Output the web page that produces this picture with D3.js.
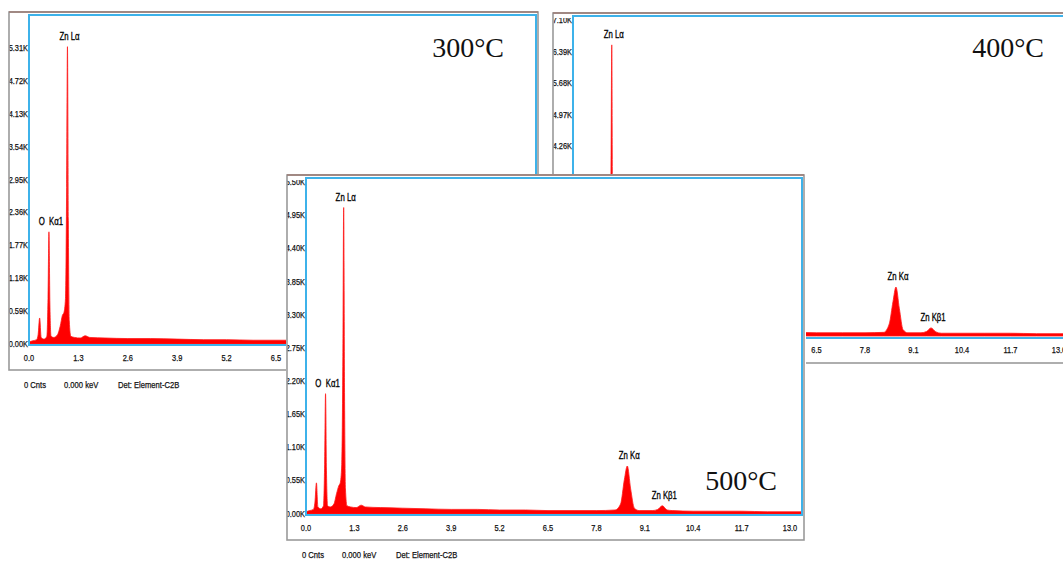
<!DOCTYPE html>
<html>
<head>
<meta charset="utf-8">
<script src="https://cdn.jsdelivr.net/npm/d3@7"></script>
<style>
  body { margin: 0; background: #fff; }
  svg { display: block; }
  .lbl { font-family: "Liberation Sans", Arial, sans-serif; font-size: 9.5px; fill: #111; stroke: #111; stroke-width: 0.25px; }
  .peak { font-family: "Liberation Sans", Arial, sans-serif; font-size: 10px; fill: #000; stroke: #000; stroke-width: 0.3px; }
  .temp { font-family: "Liberation Serif", "Times New Roman", serif; font-size: 28px; fill: #111; }
</style>
</head>
<body>
<div id="chart"></div>
<script>
// energy grid (keV) shared by the three spectra
const keV = [0.00, 0.10, 0.20, 0.24, 0.28, 0.32, 0.40, 0.47, 0.50, 0.525, 0.55, 0.58, 0.65, 0.75, 0.82, 0.88,
  0.92, 0.96, 0.99, 1.012, 1.035, 1.06, 1.10, 1.20, 1.35, 1.48, 1.60, 2.00, 2.60, 3.20, 3.90, 4.60, 5.20,
  5.90, 6.50, 7.20, 7.80, 8.30, 8.45, 8.55, 8.63, 8.72, 8.82, 8.95, 9.30, 9.45, 9.57, 9.70, 9.85, 10.40,
  11.00, 11.70, 12.40, 13.00, 13.40];

// counts in K
const counts300 = [0.02, 0.04, 0.06, 0.15, 0.45, 0.10, 0.07, 0.12, 0.80, 2.00, 0.70, 0.12, 0.10, 0.15, 0.30, 0.50,
  0.55, 0.80, 2.80, 5.33, 2.20, 0.40, 0.12, 0.10, 0.09, 0.13, 0.10, 0.09, 0.08, 0.08, 0.07, 0.06, 0.06,
  0.05, 0.05, 0.05, 0.04, 0.05, 0.25, 0.65, 0.85, 0.55, 0.15, 0.05, 0.04, 0.06, 0.13, 0.05, 0.04, 0.03,
  0.03, 0.03, 0.02, 0.02, 0.02];
const counts400 = [0.02, 0.04, 0.06, 0.15, 0.50, 0.10, 0.07, 0.12, 0.85, 2.30, 0.75, 0.12, 0.10, 0.15, 0.32, 0.55,
  0.60, 0.90, 3.30, 6.53, 2.60, 0.45, 0.12, 0.10, 0.09, 0.13, 0.10, 0.09, 0.08, 0.08, 0.07, 0.07, 0.06,
  0.06, 0.05, 0.05, 0.05, 0.06, 0.25, 0.75, 1.08, 0.60, 0.12, 0.05, 0.05, 0.08, 0.16, 0.07, 0.04, 0.04,
  0.04, 0.04, 0.03, 0.03, 0.03];
const counts500 = [0.02, 0.04, 0.06, 0.18, 0.50, 0.10, 0.07, 0.12, 0.80, 1.98, 0.70, 0.12, 0.10, 0.15, 0.32, 0.45,
  0.50, 0.80, 2.60, 5.07, 2.00, 0.40, 0.12, 0.10, 0.09, 0.13, 0.10, 0.09, 0.08, 0.07, 0.06, 0.06, 0.05,
  0.05, 0.04, 0.04, 0.04, 0.05, 0.15, 0.55, 0.78, 0.40, 0.08, 0.04, 0.04, 0.06, 0.12, 0.05, 0.04, 0.03,
  0.03, 0.03, 0.02, 0.02, 0.02];

const xTicks = [0.0, 1.3, 2.6, 3.9, 5.2, 6.5, 7.8, 9.1, 10.4, 11.7, 13.0];
const yTicks300 = [0, 0.59, 1.18, 1.77, 2.36, 2.95, 3.54, 4.13, 4.72, 5.31];
const yTicks400 = [0, 0.71, 1.42, 2.13, 2.84, 3.55, 4.26, 4.97, 5.68, 6.39, 7.10];
const yTicks500 = [0, 0.55, 1.10, 1.65, 2.20, 2.75, 3.30, 3.85, 4.40, 4.95, 5.50];

const peakNames = ["Zn L\u03b1", "O  K\u03b11", "Zn K\u03b1", "Zn K\u03b21"];
const peakKeV = [1.012, 0.525, 8.63, 9.57];
const statusTexts = ["0 Cnts", "0.000 keV", "Det: Element-C2B"];

const width = 1063, height = 562;

const svg = d3.select("#chart").append("svg")
  .attr("width", width)
  .attr("height", height);

// window layout of each screenshot (pixels)
const panels = [
  { id: "p300", counts: counts300, yTicks: yTicks300, temp: "300\u00b0C",
    frame: { x: 9, y: 12, r: 538, b: 370 }, plot: { x: 29, y: 15, r: 536, b: 345 },
    zeroY: 343, yMax: 5.9, x0: 29, x13: 523, tempX: 504, tempY: 57 },
  { id: "p400", counts: counts400, yTicks: yTicks400, temp: "400\u00b0C",
    frame: { x: 553, y: 13, r: 1082, b: 363 }, plot: { x: 573, y: 16, r: 1080, b: 338 },
    zeroY: 335, yMax: 7.18, x0: 574, x13: 1059, tempX: 1044, tempY: 57 },
  { id: "p500", counts: counts500, yTicks: yTicks500, temp: "500\u00b0C",
    frame: { x: 287, y: 175, r: 804, b: 540 }, plot: { x: 306, y: 178, r: 802, b: 515 },
    zeroY: 513, yMax: 5.56, x0: 306, x13: 790, tempX: 777, tempY: 490 }
];

// squeeze text horizontally like the narrow font of the EDS software
function narrow(sel, k) {
  sel.each(function () {
    const w = this.getComputedTextLength();
    d3.select(this).attr("textLength", w * k).attr("lengthAdjust", "spacingAndGlyphs");
  });
}

panels.forEach(drawPanel);

function drawPanel(p) {
  const g = svg.append("g").attr("id", p.id);
  const f = p.frame, pl = p.plot;

  // white window background (covers what lies below)
  g.append("rect")
    .attr("x", f.x - 1).attr("y", f.y - 1)
    .attr("width", f.r - f.x + 3).attr("height", f.b - f.y + 26)
    .attr("fill", "#fff");

  const x = d3.scaleLinear().domain([0, 13]).range([p.x0, p.x13]);
  const y = d3.scaleLinear().domain([0, p.yMax]).range([p.zeroY, pl.y]);

  const defs = g.append("defs");
  defs.append("clipPath").attr("id", p.id + "-clip")
    .append("rect").attr("x", pl.x).attr("y", pl.y)
    .attr("width", pl.r - pl.x).attr("height", pl.b - pl.y);
  defs.append("clipPath").attr("id", p.id + "-yclip")
    .append("rect").attr("x", f.x).attr("y", pl.y + 2)
    .attr("width", pl.x - f.x).attr("height", f.b - pl.y);

  const pts = keV.map((e, i) => [e, p.counts[i]]);

  const area = d3.area()
    .x(d => x(d[0]))
    .y0(p.zeroY + 1)
    .y1(d => y(d[1]))
    .curve(d3.curveMonotoneX);

  g.append("path")
    .datum(pts)
    .attr("clip-path", `url(#${p.id}-clip)`)
    .attr("d", area)
    .attr("fill", "#ff0000")
    .attr("stroke", "#ff1a1a")
    .attr("stroke-width", 0.8);

  // blue plot border
  g.append("rect")
    .attr("x", pl.x).attr("y", pl.y)
    .attr("width", pl.r - pl.x).attr("height", pl.b - pl.y)
    .attr("fill", "none")
    .attr("stroke", "#3db2ea")
    .attr("stroke-width", 2);

  // y tick labels
  g.append("g").attr("clip-path", `url(#${p.id}-yclip)`)
    .selectAll("text")
    .data(p.yTicks)
    .enter()
    .append("text")
    .attr("class", "lbl")
    .attr("x", pl.x - 1)
    .attr("y", d => y(d) + 3.5)
    .attr("text-anchor", "end")
    .text(d => d.toFixed(2) + "K")
    .call(narrow, 0.78);

  // x tick labels
  g.selectAll(".xl")
    .data(xTicks)
    .enter()
    .append("text")
    .attr("class", "lbl xl")
    .attr("x", d => x(d))
    .attr("y", p.zeroY + 18)
    .attr("text-anchor", "middle")
    .text(d => d.toFixed(1))
    .call(narrow, 0.78);

  // peak labels, placed above the highest count near each line
  g.selectAll(".peak")
    .data(peakNames)
    .enter()
    .append("text")
    .attr("class", "peak")
    .attr("x", (d, i) => x(peakKeV[i]) + 2)
    .attr("y", (d, i) => {
      const top = d3.max(pts.filter(q => Math.abs(q[0] - peakKeV[i]) < 0.06), q => q[1]);
      return y(top) - 7;
    })
    .attr("text-anchor", "middle")
    .attr("clip-path", `url(#${p.id}-clip)`)
    .style("white-space", "pre")
    .text(d => d)
    .call(narrow, 0.78);

  // temperature label
  g.append("text")
    .attr("class", "temp")
    .attr("x", p.tempX)
    .attr("y", p.tempY)
    .attr("text-anchor", "end")
    .text(p.temp);

  // window frame
  g.append("rect")
    .attr("x", f.x).attr("y", f.y)
    .attr("width", f.r - f.x).attr("height", f.b - f.y)
    .attr("fill", "none")
    .attr("stroke", "#9a9a9a")
    .attr("stroke-width", 1.6);
  g.append("line")
    .attr("x1", f.x).attr("x2", f.r)
    .attr("y1", f.y).attr("y2", f.y)
    .attr("stroke", "#9c7c76")
    .attr("stroke-width", 1.6);

  // status line under the window
  const statusOffsets = [15, 55, 109];
  g.selectAll(".status")
    .data(statusTexts)
    .enter()
    .append("text")
    .attr("class", "lbl status")
    .attr("x", (d, i) => f.x + statusOffsets[i])
    .attr("y", f.b + 18)
    .text(d => d)
    .call(narrow, 0.8);
}
</script>
</body>
</html>
